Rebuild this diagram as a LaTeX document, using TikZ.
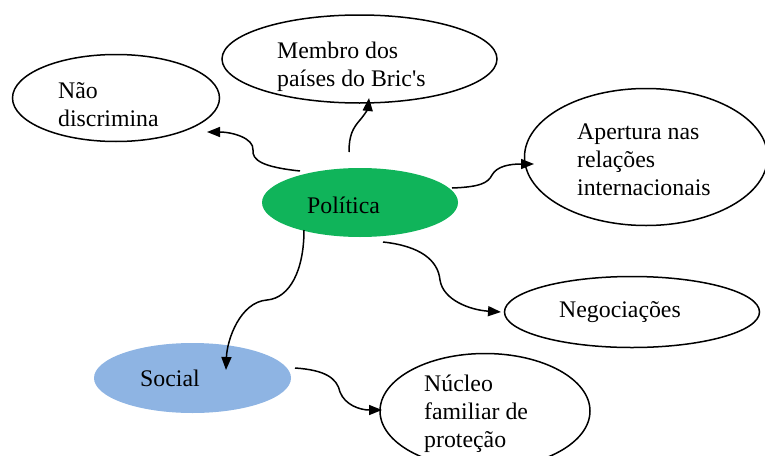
\documentclass[tikz,border=0pt]{standalone}
\usepackage{fontspec}
\setmainfont{Liberation Serif}
\usetikzlibrary{shapes.geometric,arrows.meta}
\definecolor{polgreen}{RGB}{16,180,90}
\definecolor{socblue}{RGB}{142,180,227}
\begin{document}
\begin{tikzpicture}[x=1pt,y=-1pt,
  bubble/.style={ellipse,draw=black,line width=1.5pt,inner sep=0pt},
  filledbubble/.style={ellipse,inner sep=0pt},
  lbl/.style={anchor=west,align=left,inner sep=0pt,font=\fontsize{23.8}{28}\selectfont},
  conn/.style={line width=1.5pt,-{Triangle[length=13pt,width=10pt]}}]
\useasboundingbox (0,0) rectangle (765,455);
\clip (0,0) rectangle (765,455);
% ellipses
\node[bubble,minimum width=207,minimum height=87] (nao) at (116,98) {};
\node[bubble,minimum width=275,minimum height=88] (membro) at (359.5,59) {};
\node[bubble,minimum width=243,minimum height=137] (apert) at (646,157) {};
\node[filledbubble,fill=polgreen,minimum width=196,minimum height=69] (pol) at (360,202.5) {};
\node[bubble,minimum width=255,minimum height=71] (neg) at (632,312) {};
\node[filledbubble,fill=socblue,minimum width=197,minimum height=70] (soc) at (192.5,378) {};
\node[bubble,minimum width=210,minimum height=115] (nuc) at (485,411) {};
% labels
\node[lbl] (tnao) at (58,105) {Não\\discrimina};
\node[lbl] (tmembro) at (277,67) {Membro dos\\países do Bric\textquotesingle s};
\node[lbl] (tapert) at (577,160) {Apertura nas\\relações\\internacionais};
\node[lbl] (tpol) at (307,205) {Política};
\node[lbl] (tneg) at (559,312) {Negociações};
\node[lbl] (tsoc) at (140,378) {Social};
\node[lbl] (tnuc) at (424,414) {Núcleo\\familiar de\\proteção};
% connector endpoints
\coordinate (s1) at (300,171); \coordinate (e1) at (207,132);
\coordinate (s2) at (349,152); \coordinate (e2) at (369,98);
\coordinate (s3) at (452,188); \coordinate (e3) at (534,164);
\coordinate (s4) at (383,242); \coordinate (e4) at (501,312);
\coordinate (s5) at (304,230); \coordinate (e5) at (226,370);
\coordinate (s6) at (295,368); \coordinate (e6) at (382,410);
% connectors
\draw[conn] (s1) .. controls (262,167) and (252,160) .. (253,150) .. controls (254,138) and (232,132) .. (e1);
\draw[conn] (s2) .. controls (349,135) and (353,128) .. (360,120) .. controls (366,113) and (368,108) .. (e2);
\draw[conn] (s3) .. controls (480,187) and (488,183) .. (492,175) .. controls (497,166) and (510,164) .. (e3);
\draw[conn] (s4) .. controls (420,246) and (438,260) .. (440,280) .. controls (443,300) and (470,310) .. (e4);
\draw[conn] (s5) .. controls (304,270) and (290,298) .. (267,300) .. controls (240,302) and (227,340) .. (e5);
\draw[conn] (s6) .. controls (325,370) and (337,378) .. (340,392) .. controls (345,405) and (360,410) .. (e6);
\end{tikzpicture}
\end{document}
